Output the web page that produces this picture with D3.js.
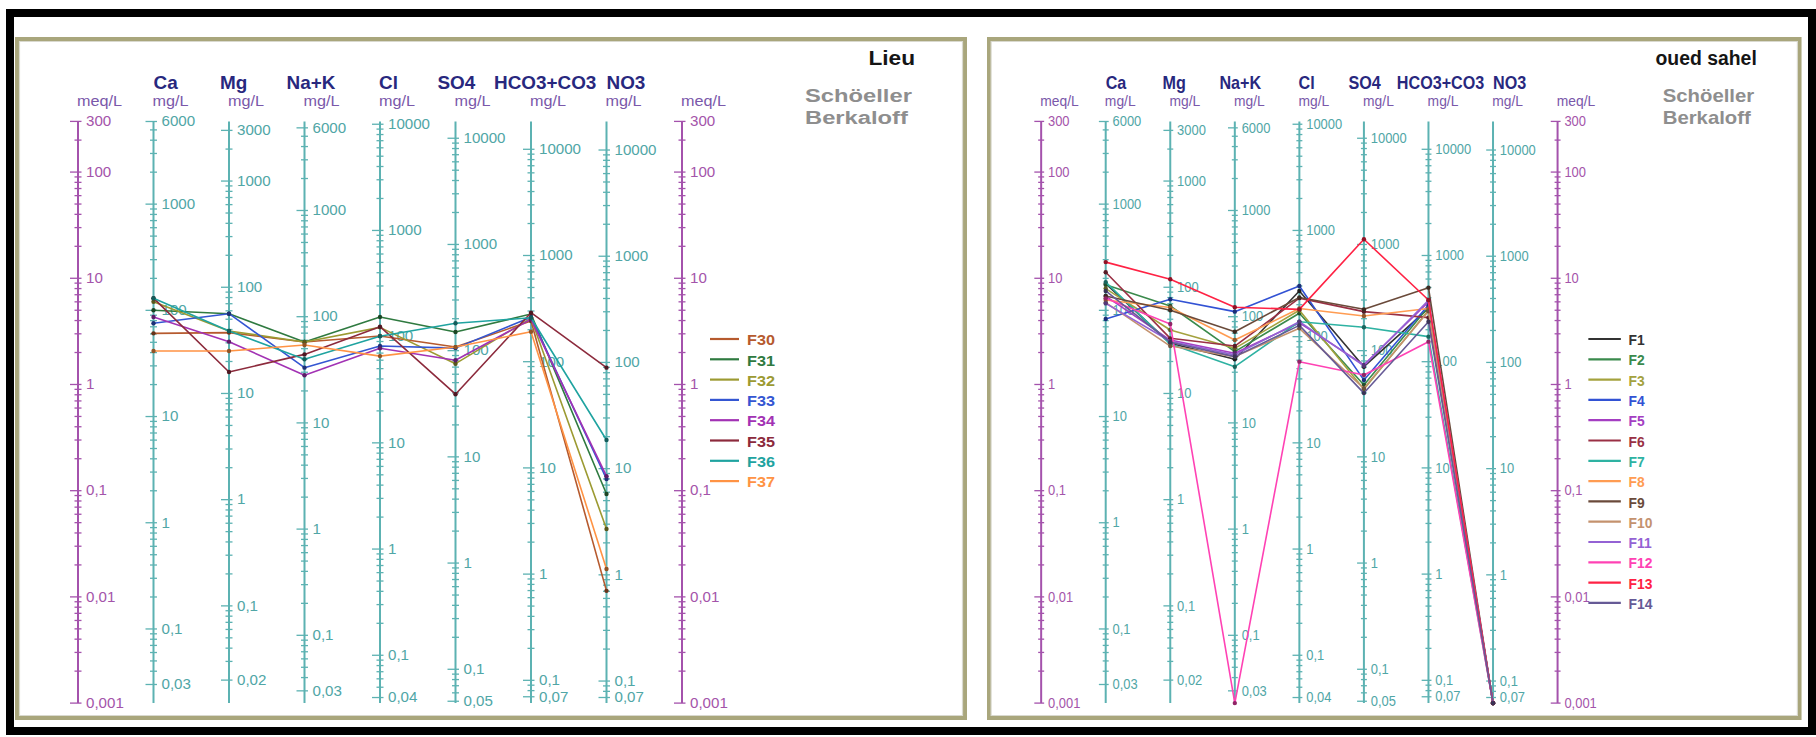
<!DOCTYPE html>
<html>
<head>
<meta charset="utf-8">
<script src="https://cdn.jsdelivr.net/npm/d3@7"></script>
<style>
  html, body { margin: 0; padding: 0; background: #fff; }
  svg { display: block; font-family: "Liberation Sans", Arial, sans-serif; }
</style>
</head>
<body>
<svg id="chart" width="1816" height="737"></svg>
<script>
// ---- Schoeller-Berkaloff diagram data (concentrations in meq/L) ----
const ions = ["Ca", "Mg", "Na+K", "Cl", "SO4", "HCO3+CO3", "NO3"];
// equivalent weights (mg per meq) used for the mg/L scales
const eqWeights = [20.04, 12.15, 23.0, 35.45, 48.03, 61.02, 62.0];

const meqTickRange = [0.001, 300];

// samples of the "Lieu" diagram
const lieuNames = ["F30", "F31", "F32", "F33", "F34", "F35", "F36", "F37"];
const lieuColors = ["#b65a2e", "#2f7a40", "#9c9a32", "#3456d2", "#a232b4", "#8c2a3c", "#1fa3a0", "#ff9344"];
const F30 = [3.03, 3.08, 2.51, 2.86, 2.25, 3.96, 0.0114];
const F31 = [5.0, 4.64, 2.51, 4.32, 3.12, 4.6, 0.093];
const F32 = [6.02, 3.19, 2.51, 3.45, 1.57, 4.2, 0.0436];
const F33 = [3.77, 4.64, 1.44, 2.3, 2.2, 4.3, 0.129];
const F34 = [4.32, 2.53, 1.22, 2.19, 1.69, 4.1, 0.137];
const F35 = [6.5, 1.31, 1.92, 3.5, 0.81, 4.74, 1.44];
const F36 = [6.48, 3.19, 1.73, 2.85, 3.77, 4.25, 0.30];
const F37 = [2.07, 2.07, 2.35, 1.85, 2.25, 3.14, 0.0183];

// samples of the "oued sahel" diagram
const sahelNames = ["F1", "F2", "F3", "F4", "F5", "F6", "F7", "F8", "F9", "F10", "F11", "F12", "F13", "F14"];
const sahelColors = ["#333333", "#3a8a4c", "#a4a23e", "#3252d4", "#a43ec2", "#9a3044", "#2eb2a2", "#ff9c52",
                     "#6a4a3a", "#c4926e", "#9462d4", "#ff42b4", "#ff2244", "#665a96"];
const F1 = [8.9, 2.44, 1.73, 7.6, 1.47, 5.2, 0.001];
const F2 = [8.7, 5.48, 2.04, 4.68, 0.99, 5.4, 0.001];
const F3 = [8.0, 3.26, 2.19, 5.0, 0.9, 5.0, 0.001];
const F4 = [4.14, 6.34, 4.85, 8.46, 1.1, 5.6, 0.001];
const F5 = [6.8, 2.62, 1.97, 3.8, 1.53, 6.0, 0.001];
const F6 = [11.4, 2.72, 2.3, 6.5, 4.85, 4.26, 0.001];
const F7 = [9.2, 2.4, 1.47, 3.9, 3.46, 2.82, 0.001];
const F8 = [6.24, 5.3, 2.62, 5.2, 4.42, 5.2, 0.001];
const F9 = [6.8, 5.0, 3.14, 6.6, 5.1, 8.16, 0.001];
const F10 = [5.9, 2.3, 1.83, 3.38, 0.92, 4.9, 0.001];
const F11 = [5.8, 2.55, 1.9, 3.9, 1.5, 6.2, 0.001];
const F12 = [6.47, 3.71, 0.001, 1.64, 1.23, 2.53, 0.001];
const F13 = [14.2, 9.8, 5.33, 5.1, 23.3, 6.24, 0.001];
const F14 = [7.6, 2.5, 1.83, 3.6, 0.83, 3.9, 0.001];

const panels = [
  { title: "Lieu", names: lieuNames, colors: lieuColors,
    values: [F30, F31, F32, F33, F34, F35, F36, F37],
    x0: 17, sx: 1, legendLine: [693, 722], legendText: 730 },
  { title: "oued sahel", names: sahelNames, colors: sahelColors,
    values: [F1, F2, F3, F4, F5, F6, F7, F8, F9, F10, F11, F12, F13, F14],
    x0: 989, sx: 0.855, legendLine: [701, 739], legendText: 748 }
];

// ---- layout ----
const svg = d3.select("#chart");
const TS = 1.08;               // horizontal text stretch
const PANEL_W = 948, PANEL_TOP = 39, PANEL_BOTTOM = 718;
const Y_TOP = 121.4, Y_BOTTOM = 703.1;
const PURPLE = "#a452ac", PURPLE_TXT = "#a454aa";
const TEAL = "#5cb2b2", TEAL_TXT = "#50a6a6";
const NAME_OFFSETS = [0, -9, -18, -1, -18, -37, 0];

svg.append("rect").attr("width", 1816).attr("height", 737).attr("fill", "#fff");

// outer black frame
svg.append("rect")
  .attr("x", 10).attr("y", 13).attr("width", 1802).attr("height", 718)
  .attr("fill", "none").attr("stroke", "#000").attr("stroke-width", 8);

const fmt = v => String(+v.toPrecision(6)).replace(".", ",");

function txt(g, x, y, s, stretch = TS) {
  return g.append("text")
    .attr("transform", `translate(${x},${y}) scale(${stretch},1)`)
    .attr("dominant-baseline", "central")
    .text(s);
}

const meqScale = d3.scaleLog().domain(meqTickRange).range([Y_BOTTOM, Y_TOP]);

function drawAxis(g, x, scale, color, txtColor) {
  const [lo, hi] = scale.domain();
  const ticks = scale.ticks().filter(t => t >= lo * 0.9999 && t <= hi * 1.0001);
  const isPow10 = t => Math.abs(Math.log10(t) - Math.round(Math.log10(t))) < 1e-9;
  const labelled = new Set(ticks.filter((t, i) => isPow10(t) || i === 0 || i === ticks.length - 1));

  g.append("line")
    .attr("x1", x).attr("x2", x)
    .attr("y1", scale.range()[0]).attr("y2", scale.range()[1])
    .attr("stroke", color).attr("stroke-width", 2)
    .attr("vector-effect", "non-scaling-stroke");

  ticks.forEach(t => {
    const y = scale(t);
    const big = labelled.has(t);
    g.append("line")
      .attr("x1", x - (big ? 8 : 3.5)).attr("x2", x + 3.5)
      .attr("y1", y).attr("y2", y)
      .attr("stroke", color).attr("stroke-width", 1.3)
      .attr("vector-effect", "non-scaling-stroke");
    if (big) {
      txt(g, x + 8, y, fmt(t))
        .attr("font-size", 14).attr("fill", txtColor);
    }
  });
}

panels.forEach(p => {
  const g = svg.append("g").attr("transform", `translate(${p.x0},0) scale(${p.sx},1)`);

  // bevelled panel frame
  g.append("rect")
    .attr("x", 0).attr("y", PANEL_TOP).attr("width", PANEL_W).attr("height", PANEL_BOTTOM - PANEL_TOP)
    .attr("fill", "#fff").attr("stroke", "#a9a67c").attr("stroke-width", 4)
    .attr("vector-effect", "non-scaling-stroke");
  g.append("rect")
    .attr("x", 2.5).attr("y", PANEL_TOP + 2.5).attr("width", PANEL_W - 5).attr("height", PANEL_BOTTOM - PANEL_TOP - 5)
    .attr("fill", "none").attr("stroke", "#d9d9cf").attr("stroke-width", 1.2)
    .attr("vector-effect", "non-scaling-stroke");

  const xScale = d3.scalePoint()
    .domain(["meqL", ...ions, "meqR"])
    .range([61, 665]);

  const ionScales = eqWeights.map(w =>
    d3.scaleLog().domain([meqTickRange[0] * w, meqTickRange[1] * w]).range([Y_BOTTOM, Y_TOP]));

  // axes
  drawAxis(g, xScale("meqL"), meqScale, PURPLE, PURPLE_TXT);
  drawAxis(g, xScale("meqR"), meqScale, PURPLE, PURPLE_TXT);
  ions.forEach((ion, i) => drawAxis(g, xScale(ion), ionScales[i], TEAL, TEAL_TXT));

  // headers
  ions.forEach((ion, i) => {
    txt(g, xScale(ion) + NAME_OFFSETS[i], 83, ion)
      .attr("font-size", 17.5).attr("font-weight", "bold").attr("fill", "#28287e");
  });
  ["meqL", ...ions, "meqR"].forEach(k => {
    txt(g, xScale(k) - 1, 101, k.startsWith("meq") ? "meq/L" : "mg/L")
      .attr("font-size", 15).attr("fill", "#7a58aa");
  });

  txt(g, 898, 58, p.title)
    .attr("text-anchor", "end").attr("font-size", 21).attr("font-weight", "bold").attr("fill", "#151515");
  txt(g, 788, 96, "Schöeller", 1.32)
    .attr("font-size", 18).attr("font-weight", "bold").attr("fill", "#8e8e8e");
  txt(g, 788, 117.5, "Berkaloff", 1.32)
    .attr("font-size", 18).attr("font-weight", "bold").attr("fill", "#8e8e8e");

  // sample profiles
  const line = d3.line()
    .x((d, i) => xScale(ions[i]))
    .y((d, i) => ionScales[i](d * eqWeights[i]));

  p.values.forEach((vals, s) => {
    const col = p.colors[s];
    g.append("path")
      .attr("d", line(vals))
      .attr("fill", "none").attr("stroke", col).attr("stroke-width", 1.6)
      .attr("stroke-linejoin", "round")
      .attr("vector-effect", "non-scaling-stroke");
    g.selectAll(null).data(vals).enter().append("ellipse")
      .attr("cx", (d, i) => xScale(ions[i]))
      .attr("cy", (d, i) => ionScales[i](d * eqWeights[i]))
      .attr("rx", 2.2 / p.sx).attr("ry", 2.2)
      .attr("fill", d3.color(col).darker(1.6));
  });

  // legend
  const legendY = d3.scalePoint().domain(p.names).range([339, 339 + 20.3 * (p.names.length - 1)]);
  p.names.forEach((n, s) => {
    const y = legendY(n);
    g.append("line")
      .attr("x1", p.legendLine[0]).attr("x2", p.legendLine[1]).attr("y1", y).attr("y2", y)
      .attr("stroke", p.colors[s]).attr("stroke-width", 2.2)
      .attr("vector-effect", "non-scaling-stroke");
    txt(g, p.legendText, y + 1, n)
      .attr("font-size", 15).attr("font-weight", "bold").attr("fill", p.colors[s]);
  });
});
</script>
</body>
</html>
